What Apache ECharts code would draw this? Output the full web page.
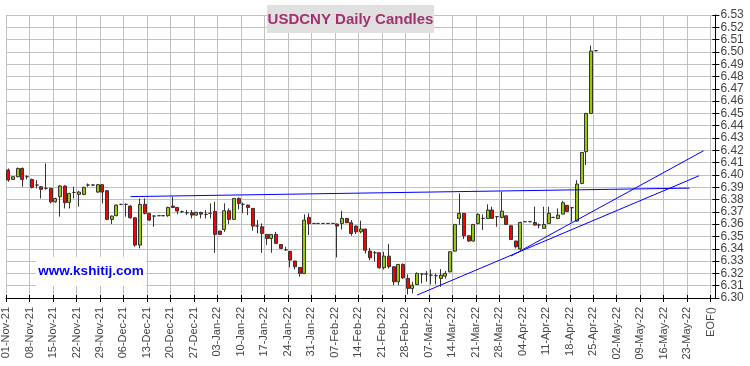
<!DOCTYPE html>
<html><head><meta charset="utf-8">
<script src="https://cdn.jsdelivr.net/npm/echarts/dist/echarts.min.js"></script>
<style>html,body{margin:0;padding:0;background:#fff}#c{width:750px;height:366px}</style>
</head><body><div id="c"></div>
<script>
// Weekly tick labels shown on the x axis
const tickLabels = ['01-Nov-21','08-Nov-21','15-Nov-21','22-Nov-21','29-Nov-21','06-Dec-21','13-Dec-21','20-Dec-21','27-Dec-21',
  '03-Jan-22','10-Jan-22','17-Jan-22','24-Jan-22','31-Jan-22','07-Feb-22','14-Feb-22','21-Feb-22','28-Feb-22',
  '07-Mar-22','14-Mar-22','21-Mar-22','28-Mar-22','04-Apr-22','11-Apr-22','18-Apr-22','25-Apr-22',
  '02-May-22','09-May-22','16-May-22','23-May-22','EOF()'];
const yTicks = {min: 6.30, max: 6.53, step: 0.01};

// Daily candles from 01-Nov-21: [open, close, low, high]
const candles = [
[6.4040,6.3959,6.3945,6.4053],[6.3964,6.3986,6.3959,6.3991],[6.3986,6.4053,6.3980,6.4060],[6.4053,6.3964,6.3904,6.4060],[6.3986,6.3986,6.3964,6.3997],
[6.3964,6.3899,6.3890,6.3970],[6.3918,6.3918,6.3891,6.3959],[6.3904,6.3883,6.3809,6.3910],[6.3891,6.3891,6.3880,6.4094],[6.3891,6.3782,6.3769,6.3895],
[6.3782,6.3809,6.3775,6.3815],[6.3823,6.3910,6.3661,6.3918],[6.3910,6.3774,6.3728,6.3915],[6.3777,6.3850,6.3728,6.3855],[6.3858,6.3858,6.3809,6.3904],
[6.3842,6.3861,6.3742,6.3870],[6.3842,6.3899,6.3835,6.3905],[6.3918,6.3918,6.3904,6.3931],[6.3918,6.3918,6.3910,6.3925],[6.3861,6.3921,6.3855,6.3925],
[6.3921,6.3861,6.3769,6.3925],[6.3872,6.3639,6.3633,6.3875],[6.3639,6.3666,6.3601,6.3670],[6.3669,6.3755,6.3665,6.3760],[6.3761,6.3761,6.3755,6.3765],
[6.3761,6.3761,6.3661,6.3769],[6.3747,6.3652,6.3645,6.3755],[6.3652,6.3430,6.3417,6.3655],[6.3430,6.3761,6.3403,6.3809],[6.3761,6.3688,6.3680,6.3809],
[6.3688,6.3633,6.3625,6.3690],[6.3666,6.3666,6.3579,6.3670],[6.3669,6.3669,6.3665,6.3672],[6.3669,6.3669,6.3665,6.3672],[6.3669,6.3736,6.3660,6.3742],
[6.3747,6.3736,6.3730,6.3823],[6.3736,6.3707,6.3680,6.3740],[6.3701,6.3701,6.3690,6.3710],[6.3693,6.3693,6.3674,6.3715],[6.3693,6.3674,6.3647,6.3715],
[6.3674,6.3696,6.3670,6.3700],[6.3696,6.3682,6.3647,6.3700],[6.3680,6.3680,6.3647,6.3715],[6.3688,6.3688,6.3647,6.3769],[6.3704,6.3517,6.3368,6.3782],
[6.3544,6.3517,6.3511,6.3547],[6.3557,6.3709,6.3538,6.3769],[6.3709,6.3639,6.3601,6.3728],[6.3639,6.3809,6.3633,6.3812],[6.3809,6.3769,6.3720,6.3818],
[6.3761,6.3761,6.3688,6.3777],[6.3755,6.3736,6.3674,6.3758],[6.3728,6.3585,6.3547,6.3730],[6.3585,6.3585,6.3525,6.3633],[6.3579,6.3525,6.3368,6.3606],
[6.3517,6.3484,6.3430,6.3520],[6.3484,6.3517,6.3368,6.3520],[6.3517,6.3444,6.3438,6.3538],[6.3435,6.3403,6.3400,6.3438],[6.3392,6.3392,6.3384,6.3417],
[6.3379,6.3308,6.3249,6.3382],[6.3300,6.3254,6.3232,6.3305],[6.3249,6.3200,6.3173,6.3252],[6.3200,6.3633,6.3194,6.3680],[6.3655,6.3606,6.3511,6.3688],
[6.3606,6.3606,6.3606,6.3606],[6.3606,6.3606,6.3606,6.3606],[6.3606,6.3606,6.3606,6.3606],[6.3606,6.3606,6.3606,6.3606],[6.3606,6.3606,6.3606,6.3606],
[6.3601,6.3585,6.3330,6.3606],[6.3606,6.3647,6.3557,6.3709],[6.3647,6.3612,6.3608,6.3650],[6.3612,6.3525,6.3506,6.3633],[6.3585,6.3538,6.3520,6.3590],
[6.3538,6.3560,6.3525,6.3628],[6.3560,6.3389,6.3362,6.3565],[6.3381,6.3327,6.3308,6.3408],[6.3368,6.3368,6.3295,6.3381],[6.3368,6.3246,6.3240,6.3370],
[6.3246,6.3340,6.3232,6.3376],[6.3340,6.3254,6.3240,6.3438],[6.3254,6.3132,6.3105,6.3257],[6.3132,6.3273,6.3105,6.3276],[6.3273,6.3164,6.3154,6.3281],
[6.3159,6.3078,6.3029,6.3192],[6.3078,6.3105,6.3037,6.3132],[6.3110,6.3200,6.3105,6.3208],[6.3195,6.3195,6.3118,6.3200],[6.3195,6.3195,6.3132,6.3219],
[6.3186,6.3186,6.3110,6.3232],[6.3181,6.3181,6.3110,6.3200],[6.3159,6.3186,6.3091,6.3235],[6.3178,6.3200,6.3159,6.3219],[6.3213,6.3376,6.3208,6.3381],
[6.3381,6.3598,6.3376,6.3600],[6.3647,6.3688,6.3593,6.3850],[6.3688,6.3506,6.3479,6.3690],[6.3506,6.3463,6.3457,6.3508],[6.3463,6.3598,6.3457,6.3600],
[6.3606,6.3679,6.3598,6.3688],[6.3647,6.3647,6.3552,6.3679],[6.3647,6.3715,6.3645,6.3761],[6.3715,6.3647,6.3645,6.3742],[6.3661,6.3661,6.3579,6.3666],
[6.3655,6.3706,6.3647,6.3864],[6.3668,6.3598,6.3593,6.3670],[6.3587,6.3476,6.3471,6.3590],[6.3463,6.3417,6.3403,6.3465],[6.3398,6.3614,6.3389,6.3620],
[6.3620,6.3620,6.3620,6.3620],[6.3620,6.3620,6.3620,6.3620],[6.3614,6.3593,6.3590,6.3742],[6.3593,6.3593,6.3566,6.3606],[6.3566,6.3598,6.3563,6.3742],
[6.3606,6.3688,6.3603,6.3742],[6.3655,6.3655,6.3650,6.3660],[6.3647,6.3674,6.3640,6.3728],[6.3682,6.3774,6.3680,6.3790],[6.3753,6.3704,6.3700,6.3755],
[6.3734,6.3734,6.3620,6.3736],[6.3625,6.3926,6.3620,6.3958],[6.3931,6.4183,6.3925,6.4185],[6.4189,6.4500,6.4080,6.4505],[6.4500,6.5007,6.4495,6.5051],
[6.5010,6.5010,6.5005,6.5012]
];

// Trend lines: [date, value] end points
const resistanceLine = [['07-Dec-21', 6.3824], ['23-May-22', 6.3893]];
const supportLineA = [['02-Mar-22', 6.3024], ['25-May-22', 6.3993]];
const supportLineB = [['30-Mar-22', 6.3341], ['26-May-22', 6.4197]];

// Weekday slots from 01-Nov-21 through 27-May-22 (axis scaffolding)
const MON = ['Jan','Feb','Mar','Apr','May','Jun','Jul','Aug','Sep','Oct','Nov','Dec'];
function fmt(d){return String(d.getUTCDate()).padStart(2,'0')+'-'+MON[d.getUTCMonth()]+'-'+String(d.getUTCFullYear()).slice(2);}
const slotDates = [];
let dt = new Date(Date.UTC(2021,10,1));
while (slotDates.length < 150) {
  const wd = dt.getUTCDay();
  if (wd !== 0 && wd !== 6) slotDates.push(fmt(dt));
  dt = new Date(dt.getTime() + 86400000);
}
const bandCats = slotDates.concat([' ']);
const boundaryCats = slotDates.concat(['EOF()', '  ']);
const tickSet = new Set(tickLabels);
const showTick = (i, v) => tickSet.has(v);

const FONT = '"Liberation Sans", Arial, sans-serif';
const chart = echarts.init(document.getElementById('c'), null, {renderer: 'canvas'});
const lineSeries = (data) => ({
  type: 'line', xAxisIndex: 0, yAxisIndex: 0, data: data, symbol: 'none', silent: true,
  lineStyle: {color: '#0000FF', width: 1}, z: 5, animation: false
});
chart.setOption({
  animation: false,
  backgroundColor: '#ffffff',
  grid: {left: 6, right: 34.6, top: 15, bottom: 68, containLabel: false, outerBoundsMode: 'none'},
  xAxis: [
    {type: 'category', data: bandCats, boundaryGap: true, position: 'bottom',
     axisLine: {show: false}, axisTick: {show: false}, axisLabel: {show: false}, splitLine: {show: false}},
    {type: 'category', data: boundaryCats, boundaryGap: false, position: 'bottom',
     axisLine: {show: true, lineStyle: {color: '#000', width: 1}},
     axisTick: {show: true, interval: showTick, length: 4, lineStyle: {color: '#000'}},
     axisLabel: {show: true, interval: showTick, rotate: 90, margin: 9, fontSize: 11, color: '#444', fontFamily: FONT},
     splitLine: {show: true, interval: showTick, lineStyle: {color: '#C0C0C0', width: 1}}},
    {type: 'category', data: boundaryCats, boundaryGap: false, position: 'bottom',
     axisLine: {show: false},
     axisTick: {show: true, inside: true, interval: showTick, length: 3, lineStyle: {color: '#000'}},
     axisLabel: {show: false}, splitLine: {show: false}}
  ],
  yAxis: [
    {type: 'value', position: 'right', min: yTicks.min, max: yTicks.max, interval: yTicks.step, scale: true,
     axisLine: {show: true, lineStyle: {color: '#000', width: 1}},
     axisTick: {show: true, length: 4, lineStyle: {color: '#000'}},
     axisLabel: {show: true, margin: 5, fontSize: 12, color: '#444', fontFamily: FONT, formatter: v => v.toFixed(2)},
     splitLine: {show: true, lineStyle: {color: '#C0C0C0', width: 1}}},
    {type: 'value', position: 'right', min: yTicks.min, max: yTicks.max, interval: yTicks.step, scale: true,
     axisLine: {show: false}, axisTick: {show: true, inside: true, length: 3, lineStyle: {color: '#000'}},
     axisLabel: {show: false}, splitLine: {show: false}}
  ],
  series: [
    {type: 'candlestick', xAxisIndex: 0, yAxisIndex: 0, data: candles, barWidth: 3.5, z: 3,
     itemStyle: {color: '#99CC00', color0: '#FF0000', borderColor: '#333333', borderColor0: '#333333', borderColorDoji: '#333333', borderWidth: 1}},
    lineSeries(resistanceLine),
    lineSeries(supportLineA),
    lineSeries(supportLineB)
  ],
  graphic: [
    {type: 'rect', shape: {x: 267, y: 5, width: 167, height: 28}, style: {fill: '#E0E0E0'}, z: 100},
    {type: 'text', x: 350.5, y: 19.5, style: {text: 'USDCNY Daily Candles', font: 'bold 15px ' + FONT, fill: '#A3316F', textAlign: 'center', textVerticalAlign: 'middle'}, z: 101},
    {type: 'rect', shape: {x: 36, y: 257, width: 110, height: 29}, style: {fill: '#FFFFFF'}, z: 100},
    {type: 'text', x: 91, y: 271.5, style: {text: 'www.kshitij.com', font: 'bold 13.5px ' + FONT, fill: '#0000FF', textAlign: 'center', textVerticalAlign: 'middle'}, z: 101}
  ]
});
</script></body></html>
